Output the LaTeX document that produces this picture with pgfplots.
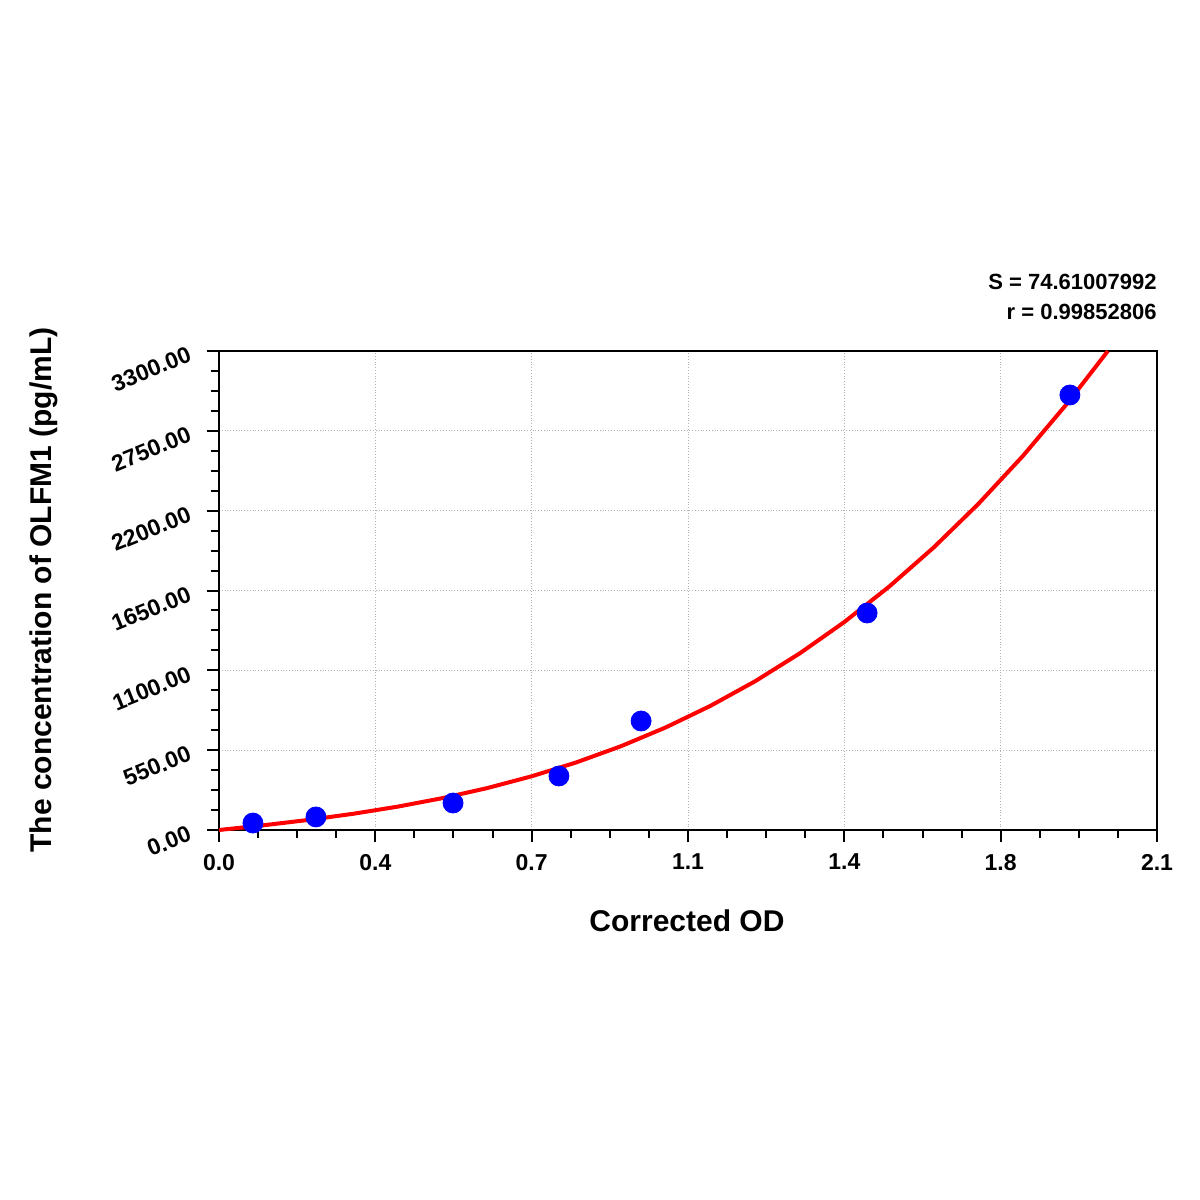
\documentclass[border=0pt]{standalone}
\usepackage{fontspec}
\setmainfont{Liberation Sans}
\usepackage{pgfplots}
\pgfplotsset{compat=1.18}
\begin{document}
\begin{tikzpicture}
\useasboundingbox (-109.5pt,-185pt) rectangle (490.5pt,415pt);
\begin{axis}[
 at={(0pt,0pt)}, anchor=south west,
 scale only axis, width=469pt, height=239.5pt,
 xmin=0, xmax=2.1, ymin=0, ymax=3300,
 xtick={0,0.35,0.7,1.05,1.4,1.75,2.1},
 xticklabels={0.0,0.4,0.7,1.1,1.4,1.8,2.1},
 ytick={0,550,1100,1650,2200,2750,3300},
 yticklabels={0.00,550.00,1100.00,1650.00,2200.00,2750.00,3300.00},
 minor x tick num=3, minor y tick num=3,
 xtick pos=lower, ytick pos=lower,
 tick align=outside, major tick length=6pt, minor tick length=4pt,
 every tick/.style={black, line width=1pt},
 axis line style={line width=1pt},
 xmajorgrids, ymajorgrids,
 grid style={densely dotted, black!30, line width=0.5pt},
 /pgf/number format/assume math mode=true,
 xticklabel style={font=\fontsize{11.5}{13}\selectfont\bfseries, yshift=-2.5pt},
 yticklabel style={font=\fontsize{11.5}{13}\selectfont\bfseries, rotate=22, anchor=east, xshift=-5pt, yshift=2pt},
 clip=false,
]
\addplot[red, line width=2pt, no marks] coordinates {
 (0,0) (0.1,32.7) (0.2,69.3) (0.3,111.5) (0.4,160.9) (0.5,219.3)
 (0.6,288.4) (0.7,370.0) (0.8,465.7) (0.9,577.3) (1.0,706.4)
 (1.1,854.8) (1.2,1024.2) (1.3,1216.4) (1.4,1432.9) (1.5,1675.7)
 (1.6,1946.2) (1.7,2246.4) (1.8,2577.8) (1.9,2942.2) (1.99,3300)
};
\addplot[only marks, mark=*, mark size=5pt, color=blue, mark options={fill=blue, draw=blue}] coordinates {
 (0.076,48) (0.217,90) (0.524,186) (0.761,372) (0.945,751) (1.451,1495) (1.905,2997)
};
\end{axis}
\node[inner sep=0pt, anchor=base east, font=\fontsize{11}{13}\selectfont\bfseries] at (469pt,270pt) {S = 74.61007992};
\node[inner sep=0pt, anchor=base east, font=\fontsize{11}{13}\selectfont\bfseries] at (469pt,255.25pt) {r = 0.99852806};
\node[inner sep=0pt, font=\fontsize{15}{18}\selectfont\bfseries] at (234pt,-45.5pt) {Corrected OD};
\node[inner sep=0pt, rotate=90, font=\fontsize{15}{18}\selectfont\bfseries] at (-87.5pt,120pt) {The concentration of OLFM1 (pg/mL)};
\end{tikzpicture}
\end{document}
